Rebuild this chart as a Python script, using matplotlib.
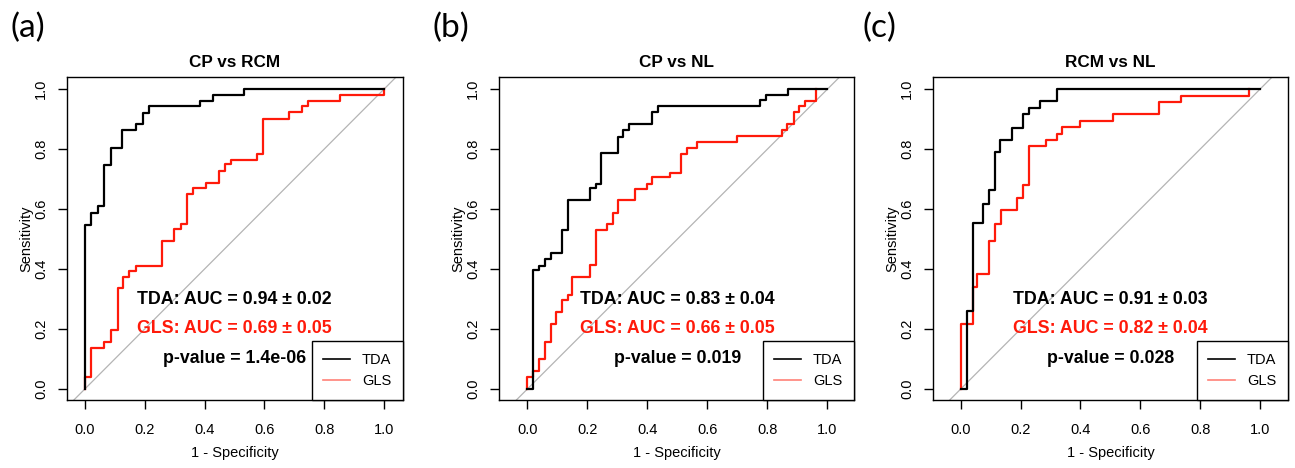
import matplotlib.pyplot as plt
from matplotlib.lines import Line2D

# R / pROC look: Arial-like text, thin black box
plt.rcParams.update({'font.family': 'Liberation Sans', 'font.size': 10.5,
                     'axes.linewidth': 1.0})

titles = ['CP vs RCM', 'CP vs NL', 'RCM vs NL']
panel_tags = ['(a)', '(b)', '(c)']
tda_auc = ['0.94 \u00b1 0.02', '0.83 \u00b1 0.04', '0.91 \u00b1 0.03']
gls_auc = ['0.69 \u00b1 0.05', '0.66 \u00b1 0.05', '0.82 \u00b1 0.04']
p_values = ['1.4e-06', '0.019', '0.028']

# ROC corner points (1 - specificity, sensitivity)
tda_fpr_a = [0, 0, 0.02, 0.043, 0.065, 0.088, 0.125, 0.172, 0.194, 0.215, 0.386, 0.427, 0.533, 1.0]
tda_tpr_a = [0, 0.548, 0.587, 0.61, 0.746, 0.805, 0.865, 0.883, 0.922, 0.943, 0.961, 0.98, 1.0, 1.0]
gls_fpr_a = [0, 0, 0.02, 0.065, 0.088, 0.109, 0.127, 0.149, 0.172, 0.258, 0.299, 0.321, 0.341,
             0.363, 0.405, 0.447, 0.469, 0.489, 0.574, 0.594, 0.682, 0.725, 0.747, 0.853, 1.0]
gls_tpr_a = [0, 0.04, 0.138, 0.157, 0.198, 0.337, 0.374, 0.394, 0.41, 0.494, 0.535, 0.552, 0.65,
             0.671, 0.687, 0.726, 0.75, 0.765, 0.785, 0.902, 0.924, 0.943, 0.961, 0.98, 1.0]

tda_fpr_b = [0, 0.019, 0.038, 0.057, 0.077, 0.116, 0.135, 0.208, 0.227, 0.246, 0.301, 0.319, 0.34,
             0.414, 0.435, 0.775, 0.795, 0.87, 1.0]
tda_tpr_b = [0, 0.396, 0.41, 0.433, 0.452, 0.532, 0.63, 0.669, 0.685, 0.787, 0.841, 0.863, 0.883,
             0.924, 0.943, 0.963, 0.98, 1.0, 1.0]
gls_fpr_b = [0, 0, 0.019, 0.038, 0.057, 0.077, 0.096, 0.116, 0.135, 0.149, 0.208, 0.227, 0.266, 0.285,
             0.301, 0.36, 0.397, 0.416, 0.475, 0.512, 0.531, 0.566, 0.698, 0.848, 0.866, 0.889, 0.907,
             0.926, 0.962]
gls_tpr_b = [0, 0.04, 0.06, 0.101, 0.157, 0.218, 0.257, 0.296, 0.313, 0.374, 0.413, 0.532, 0.552, 0.587,
             0.63, 0.668, 0.685, 0.707, 0.722, 0.785, 0.805, 0.824, 0.843, 0.863, 0.884, 0.925, 0.943,
             0.961, 1.0]

tda_fpr_c = [0, 0.021, 0.04, 0.074, 0.094, 0.113, 0.13, 0.172, 0.207, 0.227, 0.265, 0.321, 1.0]
tda_tpr_c = [0, 0.259, 0.554, 0.618, 0.663, 0.791, 0.83, 0.872, 0.916, 0.938, 0.96, 1.0, 1.0]
gls_fpr_c = [0, 0, 0.04, 0.055, 0.094, 0.113, 0.133, 0.188, 0.207, 0.227, 0.285, 0.322, 0.339,
             0.397, 0.509, 0.662, 0.735, 0.964]
gls_tpr_c = [0, 0.215, 0.34, 0.385, 0.493, 0.552, 0.596, 0.638, 0.68, 0.811, 0.832, 0.852, 0.874,
             0.895, 0.917, 0.958, 0.978, 1.0]

tda_curves = [(tda_fpr_a, tda_tpr_a), (tda_fpr_b, tda_tpr_b), (tda_fpr_c, tda_tpr_c)]
gls_curves = [(gls_fpr_a, gls_tpr_a), (gls_fpr_b, gls_tpr_b), (gls_fpr_c, gls_tpr_c)]

ticks = [0.0, 0.2, 0.4, 0.6, 0.8, 1.0]
tick_labels = ['0.0', '0.2', '0.4', '0.6', '0.8', '1.0']

W, H = 1295, 468
fig = plt.figure(figsize=(W / 100, H / 100), dpi=100)

# pixel boxes of the three plot regions (left, right, top, bottom) and their x ranges
boxes = [(67, 403, 77, 400), (499, 854, 77, 400), (933, 1288, 77, 400)]
xlims = [(-0.06, 1.064), (-0.095, 1.089), (-0.093, 1.094)]
tag_x = [10, 433, 862]

red = '#ff1a0a'

for i in range(3):
    l, r, t, b = boxes[i]
    ax = fig.add_axes([l / W, 1 - b / H, (r - l) / W, (b - t) / H])
    ax.axline((0, 0), (1, 1), color='#b4b4b4', lw=0.9, zorder=1)
    ax.plot(*tda_curves[i], drawstyle='steps-post', color='black', lw=1.6, zorder=3)
    ax.plot(*gls_curves[i], drawstyle='steps-post', color=red, lw=1.6, zorder=2)
    ax.set_xlim(*xlims[i])
    ax.set_ylim(-0.037, 1.041)
    ax.set_xticks(ticks)
    ax.set_xticklabels(tick_labels)
    ax.set_yticks(ticks)
    ax.set_yticklabels(tick_labels, rotation=90, va='center')
    ax.tick_params(direction='out', length=6.5, width=1, labelsize=10.5)
    ax.tick_params(axis='x', pad=10)
    ax.tick_params(axis='y', pad=7)
    ax.set_xlabel('1 - Specificity', fontsize=10.5, labelpad=6.5)
    ax.set_ylabel('Sensitivity', fontsize=10.5, labelpad=1)
    ax.set_title(titles[i], fontsize=12.3, fontweight='bold', pad=7)

    ax.text(0.5, 0.3, 'TDA: AUC = ' + tda_auc[i], fontsize=12.8, fontweight='bold',
            ha='center', va='center', zorder=6)
    ax.text(0.5, 0.2, 'GLS: AUC = ' + gls_auc[i], fontsize=12.8, fontweight='bold',
            color=red, ha='center', va='center', zorder=6)
    ax.text(0.5, 0.1, 'p-value = ' + p_values[i], fontsize=12.8, fontweight='bold',
            ha='center', va='center', zorder=6)

    handles = [Line2D([], [], color='black', lw=1.2),
               Line2D([], [], color=red, lw=1.2, alpha=0.55)]
    leg = ax.legend(handles, ['TDA', 'GLS'], loc='lower right', bbox_to_anchor=(1, 0),
                    borderaxespad=0, fancybox=False, edgecolor='black', framealpha=1,
                    fontsize=10.5, handlelength=1.8, handletextpad=0.85, borderpad=0.8,
                    labelspacing=0.5)
    leg.get_frame().set_linewidth(1.0)
    leg.set_zorder(5)

    fig.text(tag_x[i] / W, 1 - 28 / H, panel_tags[i], fontsize=24, family='Lato',
             ha='left', va='center')

fig.savefig('out.png', dpi=100)
